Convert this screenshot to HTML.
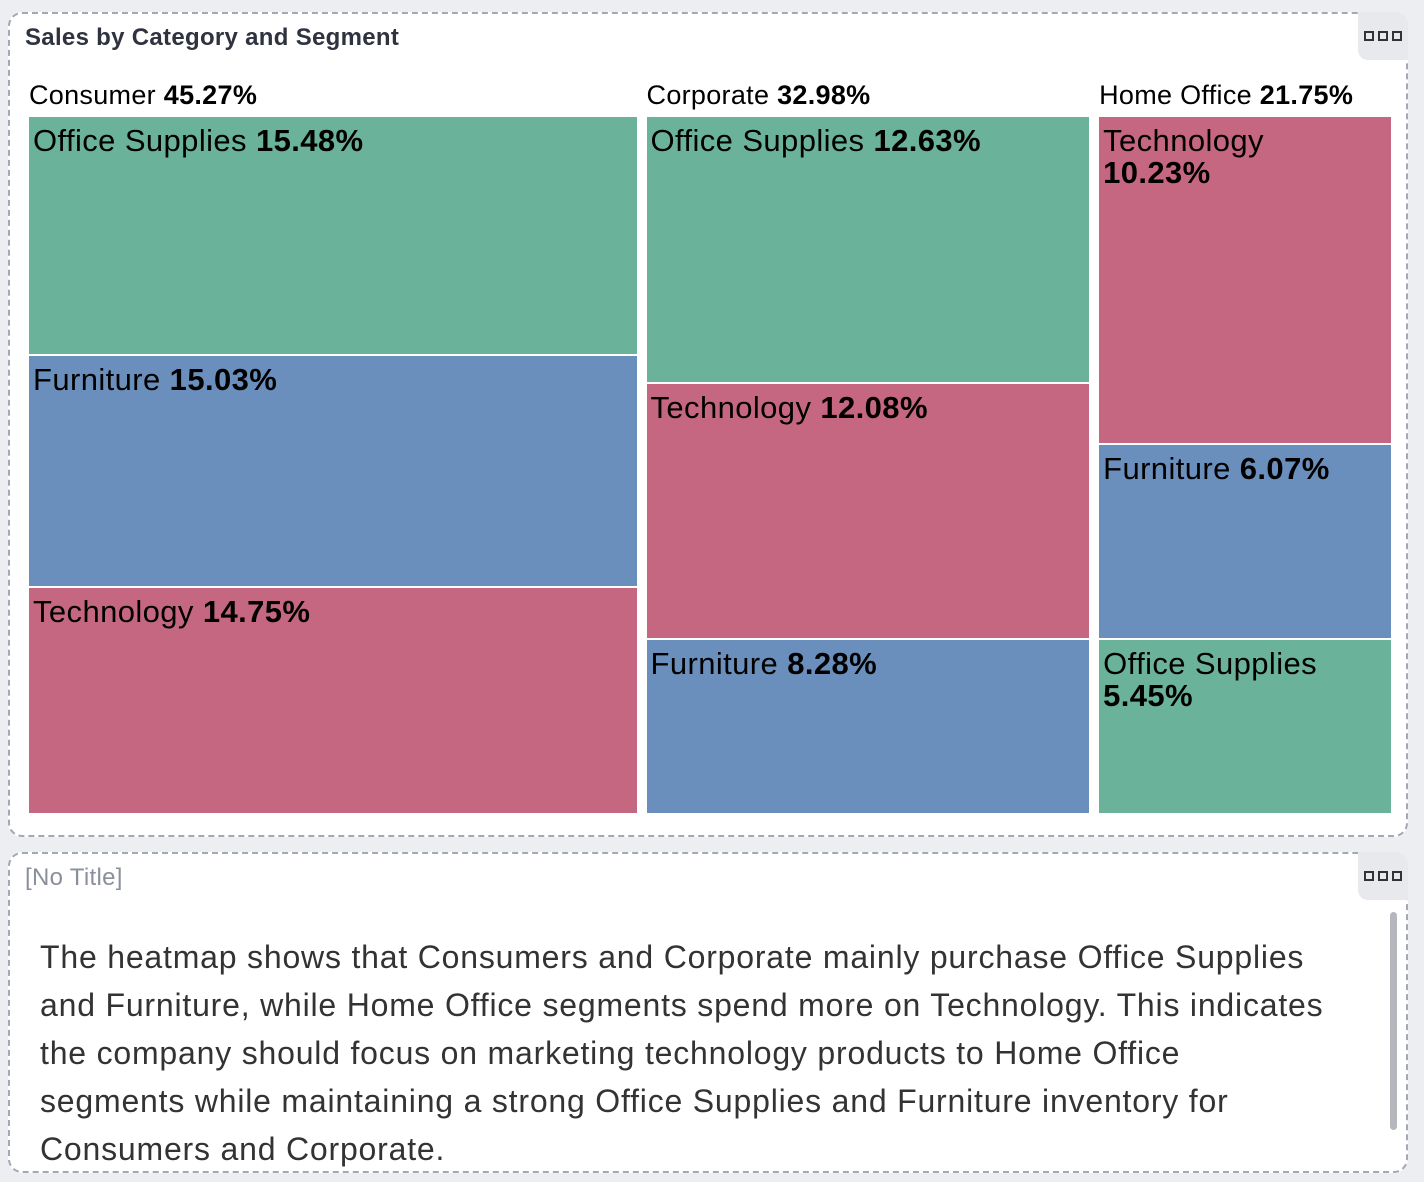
<!DOCTYPE html>
<html><head><meta charset="utf-8"><style>
body{margin:0;width:1424px;height:1182px;background:#eceef1;font-family:"Liberation Sans",sans-serif;position:relative;overflow:hidden}
.panel{position:absolute;left:8px;width:1400px;background:#fff;border:2px dashed #a4a8b4;border-radius:14px;box-sizing:border-box}
.menu{position:absolute;right:-2px;top:-2px;width:50px;height:48px;background:#e8e9ec;border-radius:0 12px 0 10px;display:flex;align-items:center;justify-content:center;gap:4px}
.menu i{width:6px;height:6px;border:2px solid #333;display:block}
.ptitle{position:absolute;left:15px;top:10px;font-size:24px;letter-spacing:0.3px;font-weight:bold;color:#2f3340}
.cell{position:absolute;box-sizing:border-box;padding:8px 30px 6px 4px;font-size:31px;letter-spacing:0.4px;line-height:32px;color:#000}
.seg{position:absolute;font-size:27px;letter-spacing:0.3px;color:#000;top:80px}
.txt{position:absolute;left:40px;top:933px;width:1360px;font-size:32px;letter-spacing:0.8px;line-height:48px;color:#333;white-space:nowrap}
</style></head><body>
<div class="panel" style="top:12px;height:825px">
<div class="ptitle">Sales by Category and Segment</div>
<div class="menu"><i></i><i></i><i></i></div>
</div>
<div class="panel" style="top:852px;height:321px">
<div class="ptitle" style="font-weight:normal;color:#8a8f9b;top:10px">[No Title]</div>
<div class="menu"><i></i><i></i><i></i></div>
<div style="position:absolute;left:1380px;top:58px;width:7px;height:218px;background:#b5b7bd;border-radius:4px"></div>
</div>
<div class="txt">The heatmap shows that Consumers and Corporate mainly purchase Office Supplies<br>and Furniture, while Home Office segments spend more on Technology. This indicates<br>the company should focus on marketing technology products to Home Office<br>segments while maintaining a strong Office Supplies and Furniture inventory for<br>Consumers and Corporate.</div>
<div id="tm"></div>
<script>
const segments=["Consumer","Corporate","Home Office"];
const segValues=[45.27,32.98,21.75];
const categories=[["Office Supplies","Furniture","Technology"],["Office Supplies","Technology","Furniture"],["Technology","Furniture","Office Supplies"]];
const catValues=[[15.48,15.03,14.75],[12.63,12.08,8.28],[10.23,6.07,5.45]];
const colors={"Office Supplies":"#6bb29a","Furniture":"#6b8fbc","Technology":"#c66781"};
const X0=29,W=1342,GAP=10,Y0=117,H=698,CG=2;
const tm=document.getElementById('tm');
const tot=segValues.reduce((a,b)=>a+b,0);
let x=X0;
segments.forEach((s,i)=>{
 const w=W*segValues[i]/tot;
 const lab=document.createElement('div');
 lab.className='seg';lab.style.left=x+'px';
 lab.innerHTML=s+' <b>'+segValues[i].toFixed(2)+'%</b>';
 
 
 tm.appendChild(lab);
 const st=catValues[i].reduce((a,b)=>a+b,0);
 let y=Y0;
 categories[i].forEach((c,j)=>{
  const h=H*catValues[i][j]/st;
  const d=document.createElement('div');
  d.className='cell';
  d.style.left=x+'px';d.style.top=y+'px';d.style.width=w+'px';d.style.height=(h-CG)+'px';
  d.style.background=colors[c];
  d.innerHTML=c+' <b>'+catValues[i][j].toFixed(2)+'%</b>';
  
  
  tm.appendChild(d);
  y+=h;
 });
 x+=w+GAP;
});
</script>
</body></html>
